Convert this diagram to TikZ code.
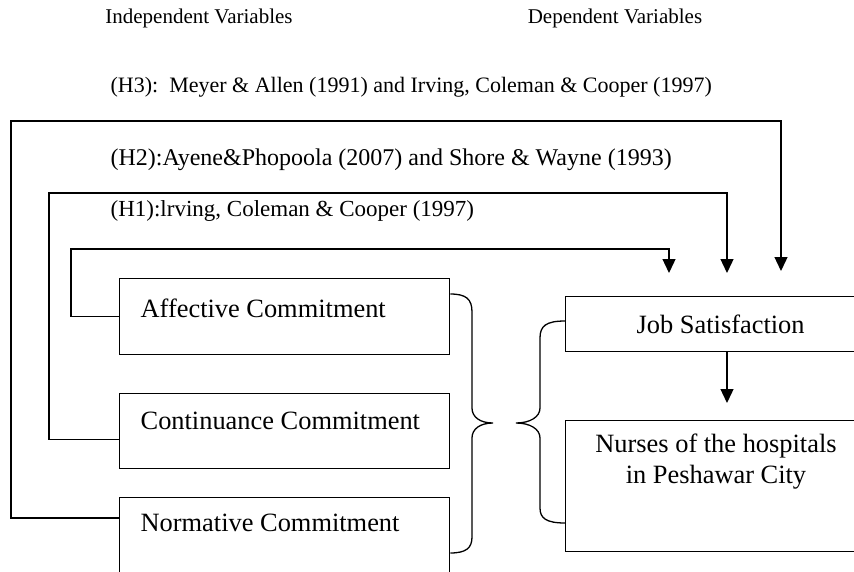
\documentclass[tikz,border=0pt]{standalone}
\usepackage{fontspec}
\setmainfont{Liberation Serif}
\usetikzlibrary{arrows.meta,calc}
\begin{document}
\begin{tikzpicture}[x=1pt,y=-1pt,line width=1.3pt,
  box/.style={draw,rectangle,anchor=north west,inner sep=0pt},
  boxtxt/.style={font=\fontsize{26.4}{31}\selectfont,inner sep=0pt},
  htxt/.style={inner sep=0pt,anchor=west},
  hdr/.style={font=\fontsize{21}{25}\selectfont,inner sep=0pt},
  arr/.style={-{Triangle[width=13pt,length=14pt]}}]
\useasboundingbox (0,0) rectangle (854,571);
\clip (0,0) rectangle (854,571);
% headers
\node[hdr] (iv) at (199,18) {Independent Variables};
\node[hdr] (dv) at (615,18) {Dependent Variables};
% hypothesis labels
\node[htxt,font=\fontsize{22}{26}\selectfont] (h3) at (110,87) {(H3):\ \ Meyer \& Allen (1991) and Irving, Coleman \& Cooper (1997)};
\node[htxt,font=\fontsize{24}{28}\selectfont] (h2) at (110,160) {(H2):Ayene\&Phopoola (2007) and Shore \& Wayne (1993)};
\node[htxt,font=\fontsize{23}{27}\selectfont] (h1) at (110,211) {(H1):lrving, Coleman \& Cooper (1997)};
% boxes
\node[box,minimum width=330pt,minimum height=76pt] (aff) at (119,278) {};
\node[box,minimum width=330pt,minimum height=75pt] (cont) at (119,393) {};
\node[box,minimum width=330pt,minimum height=110pt] (norm) at (119,497) {};
\node[box,minimum width=310pt,minimum height=55pt,boxtxt] (js) at (565,296) {Job Satisfaction};
\node[box,minimum width=310pt,minimum height=131pt] (nur) at (565,420) {};
% box texts
\node[boxtxt,anchor=west] (afft) at (140,308) {Affective Commitment};
\node[boxtxt,anchor=west] (contt) at (140,421) {Continuance Commitment};
\node[boxtxt,anchor=west] (normt) at (140,523) {Normative Commitment};
\node[boxtxt,align=center] (nurt) at (716,462) {Nurses of the hospitals\\in Peshawar City};
% arrow ends
\coordinate (t1) at (669,273);
\coordinate (t2) at (727,273);
\coordinate (t3) at (781,271);
\coordinate (t4) at (727,403);
% connectors
\draw[arr] (aff.west) -- ++(-48,0) |- (t1 |- 0,249) -- (t1);
\draw[arr] ($(cont.west)+(0,8)$) -- ++(-70,0) |- (t2 |- 0,193) -- (t2);
\draw[arr] ($(norm.north west)+(0,21)$) -- ++(-108,0) |- (t3 |- 0,121) -- (t3);
\draw[arr] (js.south -| t4) -- (t4);
% braces
\draw (aff.east |- 0,294) .. controls (466,294) and (472,299) .. (472,312)
  -- (472,408) .. controls (472,417) and (480,423) .. (493,423)
  .. controls (480,423) and (472,429) .. (472,438)
  -- (472,537) .. controls (472,548) and (466,553) .. (norm.east |- 0,553);
\draw (js.west |- 0,321) .. controls (546,321) and (540,326) .. (540,338)
  -- (540,408) .. controls (540,417) and (530,423) .. (516,423)
  .. controls (530,423) and (540,429) .. (540,438)
  -- (540,508) .. controls (540,518) and (546,523) .. (nur.west |- 0,523);
\end{tikzpicture}
\end{document}
